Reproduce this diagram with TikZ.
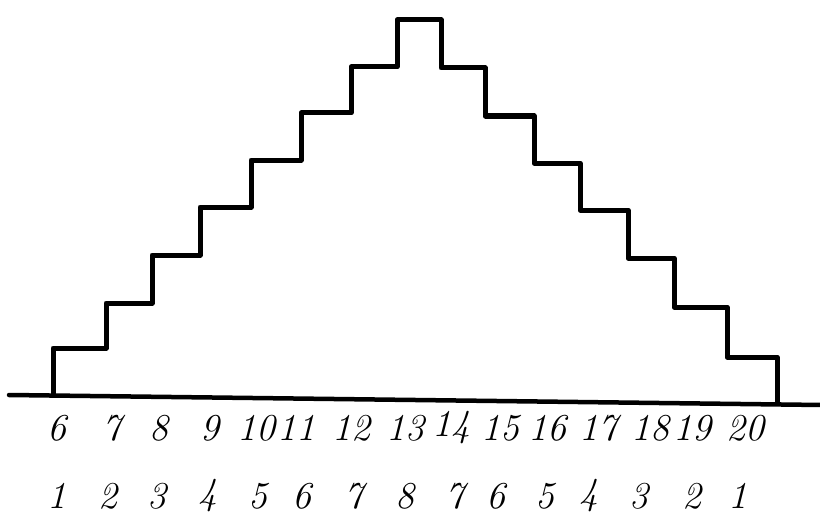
\documentclass[tikz,border=0pt]{standalone}
\usepackage{fontspec}
\begin{document}
\begin{tikzpicture}[x=1pt,y=-1pt,
  stair/.style={line width=5pt,line join=round,line cap=round},
  axisline/.style={line width=4.5pt,line cap=round},
  toplbl/.style={inner sep=0pt,font=\fontsize{38}{40}\selectfont\itshape},
  botlbl/.style={inner sep=0pt,font=\fontsize{38}{40}\selectfont\itshape}]
\useasboundingbox (0,0) rectangle (820,519);
% baseline
\coordinate (bl) at (9,395);
\coordinate (br) at (822,405);
\draw[axisline] (bl) -- (br);
% staircase
\draw[stair] (53,395) -- (53,348) -- (106,348) -- (106,303) -- (152,303)
  -- (152,255) -- (200,255) -- (200,207) -- (251,207) -- (251,160)
  -- (301,160) -- (301,113) -- (351,113) -- (351,67) -- (397,67)
  -- (397,20) -- (441,20) -- (441,68) -- (485,68) -- (485,116)
  -- (534,116) -- (534,163) -- (580,163) -- (580,210) -- (628,210)
  -- (628,258) -- (674,258) -- (674,307) -- (727,307) -- (727,357)
  -- (777,357) -- (777,403);
% top row of labels
\foreach \n/\x in {6/57,7/112,8/159,9/210,10/256,11/296,12/351,13/405,14/451,15/500,16/547,17/598,18/650,19/692,20/745}
  \node[toplbl] (t\n) at (\x,428) {\n};
% bottom row of labels
\foreach \k/\n/\x in {a/1/57,b/2/108,c/3/157,d/4/208,e/5/258,f/6/302,g/7/354,h/8/405,i/7/455,j/6/496,k/5/545,l/4/589,m/3/639,n/2/692,o/1/738}
  \node[botlbl] (b\k) at (\x,496) {\n};
\end{tikzpicture}
\end{document}
